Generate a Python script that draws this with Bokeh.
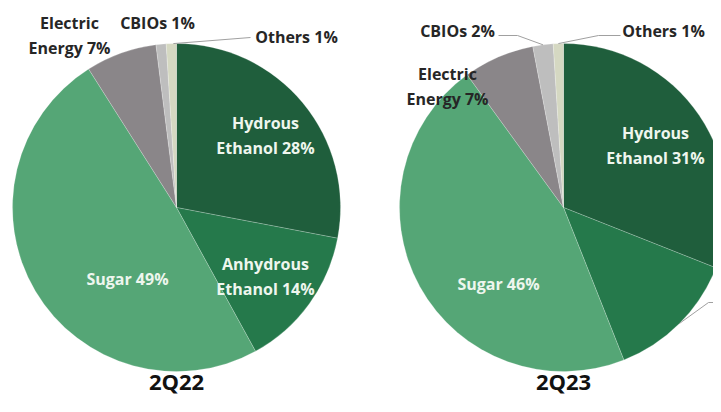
import math
from bokeh.plotting import figure
from bokeh.models import Range1d, ColumnDataSource
from bokeh.core.properties import value
from bokeh.embed import file_html
from bokeh.resources import INLINE

# ---- data ----
categories = ["Hydrous Ethanol", "Anhydrous Ethanol", "Sugar", "Electric Energy", "CBIOs", "Others"]
share_2q22 = [28, 14, 49, 7, 1, 1]
share_2q23 = [31, 13, 46, 7, 2, 1]
periods = ["2Q22", "2Q23"]

colors = ["#1f5e3c", "#25794b", "#55a676", "#8a8689", "#bebebe", "#d5d8c2"]

W, H = 713, 396
DY = -5  # small upward shift so the titles fit


def sx(x):
    return x


def sy(y):
    return H - (y + DY)


p = figure(width=W, height=H, output_backend="svg", toolbar_location=None,
           x_range=Range1d(0, W), y_range=Range1d(0, H), min_border=0)
p.axis.visible = False
p.grid.visible = False
p.outline_line_color = None
p.background_fill_color = "white"
p.border_fill_color = "white"

R = 164
centers = [(176, 212), (563, 212)]


def draw_pie(cx, cy, shares):
    tot = float(sum(shares))
    cum = 0.0
    starts, ends = [], []
    for s in shares:
        a0 = math.pi / 2 - 2 * math.pi * (cum + s) / tot
        a1 = math.pi / 2 - 2 * math.pi * cum / tot
        starts.append(a0)
        ends.append(a1)
        cum += s
    src = ColumnDataSource(dict(start=starts, end=ends, color=colors,
                                cat=categories, val=shares))
    p.wedge(x=sx(cx), y=sy(cy), radius=R, start_angle="start", end_angle="end",
            fill_color="color", line_color="white", line_alpha=0.35, line_width=0.6,
            source=src)
    return starts, ends


def edge_point(cx, cy, a0, a1, rr=R):
    m = (a0 + a1) / 2
    return cx + rr * math.cos(m), cy - rr * math.sin(m)


inside_col = "#eef6ee"
outside_col = "#262626"
lead_col = "#a0a0a0"


def label(x, y, txt, color, size="16px", lh=1.1):
    p.text(x=[sx(x)], y=[sy(y)], text=[txt], text_align="center", text_baseline="middle",
           text_color=color, text_font=value("Open Sans"), text_font_style="bold",
           text_font_size=size, text_line_height=lh)


def fmt(name, v, two_line=False):
    if two_line:
        a, b = name.split(" ")
        return f"{a}\n{b} {v}%"
    return f"{name} {v}%"


# ---- Pie 1 ----
cx, cy = centers[0]
s1, e1 = draw_pie(cx, cy, share_2q22)
label(265, 140, fmt(categories[0], share_2q22[0], True), inside_col)
label(265, 281, fmt(categories[1], share_2q22[1], True), inside_col)
label(127, 283, fmt(categories[2], share_2q22[2]), inside_col)
label(69, 40, fmt(categories[3], share_2q22[3], True), outside_col)
label(157, 27, fmt(categories[4], share_2q22[4]), outside_col)
label(296, 41, fmt(categories[5], share_2q22[5]), outside_col)
ex, ey = edge_point(cx, cy, s1[5], e1[5])
p.line([sx(ex + 2), sx(250)], [sy(ey), sy(42)], line_color=lead_col, line_width=1)

# ---- Pie 2 ----
cx, cy = centers[1]
s2, e2 = draw_pie(cx, cy, share_2q23)
label(655, 150, fmt(categories[0], share_2q23[0], True), inside_col)
label(498, 288, fmt(categories[2], share_2q23[2]), inside_col)
label(447, 91, fmt(categories[3], share_2q23[3], True), outside_col)
label(457, 35, fmt(categories[4], share_2q23[4]), outside_col)
label(663, 35, fmt(categories[5], share_2q23[5]), outside_col)
ex, ey = edge_point(cx, cy, s2[4], e2[4])
p.line([sx(498), sx(517), sx(ex)], [sy(40), sy(40), sy(ey)], line_color=lead_col, line_width=1)
ex, ey = edge_point(cx, cy, s2[5], e2[5])
p.line([sx(620), sx(598), sx(ex)], [sy(40), sy(40), sy(ey)], line_color=lead_col, line_width=1)
# anhydrous leader (its label lies beyond the visible area in the reference)
ex, ey = edge_point(cx, cy, s2[1], e2[1])
p.line([sx(ex), sx(708), sx(725)], [sy(ey), sy(307), sy(307)], line_color=lead_col, line_width=1)

# ---- titles ----
for (cx, cy), per in zip(centers, periods):
    p.text(x=[sx(cx)], y=[sy(385)], text=[per], text_align="center", text_baseline="middle",
           text_color="#111111", text_font=value("Open Sans"), text_font_style="bold",
           text_font_size="22px")

open("out.html", "w").write(file_html(p, INLINE))
